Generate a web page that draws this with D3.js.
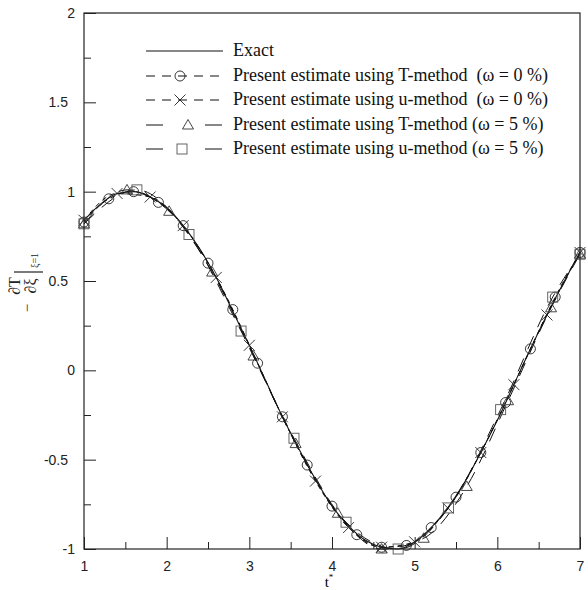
<!DOCTYPE html>
<html>
<head>
<meta charset="utf-8">
<script src="https://cdn.jsdelivr.net/npm/d3@7"></script>
<style>
  body { margin: 0; background: #fff; }
  svg { display: block; }
</style>
</head>
<body>
<div id="chart"></div>
<script>
// Exact solution
const exactT = [1.0, 1.2, 1.4, 1.6, 1.8, 2.0, 2.2, 2.4, 2.6, 2.8, 3.0, 3.2, 3.4, 3.6, 3.8, 4.0,
                4.2, 4.4, 4.6, 4.8, 5.0, 5.2, 5.4, 5.6, 5.8, 6.0, 6.2, 6.4, 6.6, 6.8, 7.0];
const exactV = [0.84, 0.93, 0.99, 1.00, 0.97, 0.91, 0.81, 0.68, 0.52, 0.33, 0.14, -0.06, -0.26, -0.44, -0.61, -0.76,
                -0.87, -0.95, -0.99, -1.00, -0.96, -0.88, -0.77, -0.63, -0.46, -0.28, -0.08, 0.12, 0.31, 0.49, 0.66];

// T-method, omega = 0 % (circles)
const tm0T = [1.0, 1.3, 1.6, 1.9, 2.2, 2.5, 2.8, 3.1, 3.4, 3.7, 4.0, 4.3, 4.6, 4.9, 5.2, 5.5, 5.8, 6.1, 6.4, 6.7, 7.0];
const tm0V = [0.83, 0.96, 1.00, 0.94, 0.81, 0.60, 0.34, 0.04, -0.26, -0.53, -0.76, -0.92, -0.99, -0.98, -0.88, -0.71, -0.46, -0.18, 0.12, 0.41, 0.66];

// u-method, omega = 0 % (crosses)
const um0T = [1.0, 1.4, 1.8, 2.2, 2.6, 3.0, 3.4, 3.8, 4.2, 4.6, 5.0, 5.4, 5.8, 6.2, 6.6, 7.0];
const um0V = [0.84, 0.99, 0.97, 0.81, 0.52, 0.14, -0.26, -0.62, -0.88, -0.99, -0.96, -0.77, -0.46, -0.08, 0.31, 0.66];

// T-method, omega = 5 % (triangles)
const tm5T = [1.0, 1.52, 2.03, 2.55, 3.05, 3.56, 4.07, 4.6, 5.11, 5.63, 6.13, 6.65, 7.0];
const tm5V = [0.82, 1.01, 0.89, 0.55, 0.08, -0.41, -0.80, -1.00, -0.94, -0.65, -0.17, 0.35, 0.65];

// u-method, omega = 5 % (squares)
const um5T = [1.0, 1.64, 2.27, 2.90, 3.54, 4.17, 4.80, 5.41, 6.04, 6.67, 7.0];
const um5V = [0.82, 1.01, 0.76, 0.22, -0.38, -0.85, -1.00, -0.77, -0.22, 0.41, 0.65];

const xTicks = [1, 2, 3, 4, 5, 6, 7];
const yTicks = [-1, -0.5, 0, 0.5, 1, 1.5, 2];
const xMinor = [1.5, 2.5, 3.5, 4.5, 5.5, 6.5];
const yMinor = [-0.75, -0.25, 0.25, 0.75, 1.25, 1.75];

const legendLabels = [
  "Exact",
  "Present estimate using T-method  (\u03c9 = 0 %)",
  "Present estimate using u-method  (\u03c9 = 0 %)",
  "Present estimate using T-method (\u03c9 = 5 %)",
  "Present estimate using u-method (\u03c9 = 5 %)"
];

const W = 588, H = 590;
const margin = { top: 13, right: 8, bottom: 41, left: 84 };
const width = W - margin.left - margin.right;
const height = H - margin.top - margin.bottom;

const svg = d3.select("#chart").append("svg")
  .attr("width", W)
  .attr("height", H);

const g = svg.append("g")
  .attr("transform", `translate(${margin.left},${margin.top})`);

const x = d3.scaleLinear().domain([1, 7]).range([0, width]);
const y = d3.scaleLinear().domain([-1, 2]).range([height, 0]);

const zip = (ts, vs) => ts.map((t, i) => ({ t: t, v: vs[i] }));

const series = [
  { data: zip(exactT, exactV), dash: null, symbol: null },
  { data: zip(tm0T, tm0V), dash: "5,4", symbol: "circle" },
  { data: zip(um0T, um0V), dash: "5,4", symbol: "cross" },
  { data: zip(tm5T, tm5V), dash: "14,10", symbol: "triangle" },
  { data: zip(um5T, um5V), dash: "14,10", symbol: "square" }
];

// draws one marker at (cx, cy)
function marker(sel, type, cx, cy) {
  if (type === "circle") {
    sel.append("circle").attr("cx", cx).attr("cy", cy).attr("r", 5)
      .attr("fill", "none").attr("stroke", "#222").attr("stroke-width", 0.9);
  } else if (type === "cross") {
    const s = 5.5;
    sel.append("path")
      .attr("d", `M${cx - s},${cy - s}L${cx + s},${cy + s}M${cx - s},${cy + s}L${cx + s},${cy - s}`)
      .attr("stroke", "#222").attr("stroke-width", 0.9).attr("fill", "none");
  } else if (type === "triangle") {
    sel.append("path")
      .attr("d", `M${cx},${cy - 5.5}L${cx + 5.5},${cy + 4}L${cx - 5.5},${cy + 4}Z`)
      .attr("stroke", "#333").attr("stroke-width", 0.9).attr("fill", "none");
  } else if (type === "square") {
    sel.append("rect").attr("x", cx - 5).attr("y", cy - 5).attr("width", 10).attr("height", 10)
      .attr("fill", "none").attr("stroke", "#555").attr("stroke-width", 0.9);
  }
}

const line = d3.line()
  .x(d => x(d.t))
  .y(d => y(d.v))
  .curve(d3.curveMonotoneX);

// curves
series.forEach(s => {
  g.append("path")
    .datum(s.data)
    .attr("d", line)
    .attr("fill", "none")
    .attr("stroke", "#111")
    .attr("stroke-width", s.dash ? 1 : 1.1)
    .attr("stroke-dasharray", s.dash);
});

// markers
series.forEach(s => {
  if (!s.symbol) return;
  const mg = g.append("g");
  s.data.forEach(d => marker(mg, s.symbol, x(d.t), y(d.v)));
});

// axes, ticks pointing inward
g.append("g")
  .attr("transform", `translate(0,${height})`)
  .call(d3.axisBottom(x).tickValues(xTicks).tickSizeInner(-12).tickSizeOuter(0).tickPadding(12).tickFormat(d3.format("d")));
g.append("g")
  .attr("transform", `translate(0,${height})`)
  .call(d3.axisBottom(x).tickValues(xMinor).tickSizeInner(-7).tickSizeOuter(0).tickFormat(""));

const yAxis = g.append("g")
  .call(d3.axisLeft(y).tickValues(yTicks).tickSizeInner(-12).tickSizeOuter(0).tickPadding(9).tickFormat(d => String(d)));
g.append("g")
  .call(d3.axisLeft(y).tickValues(yMinor).tickSizeInner(-7).tickSizeOuter(0).tickFormat(""));

g.selectAll(".domain").remove();
g.selectAll(".tick line").attr("stroke", "#222").attr("stroke-width", 1);
g.selectAll(".tick text")
  .style("font-family", "'Liberation Sans', Arial, sans-serif")
  .style("font-size", "14px")
  .attr("fill", "#222");
// decimal labels sit a bit further left
yAxis.selectAll(".tick text").attr("x", d => String(d).includes(".") ? -16 : -9);

// frame
g.append("rect")
  .attr("width", width)
  .attr("height", height)
  .attr("fill", "none")
  .attr("stroke", "#222")
  .attr("stroke-width", 1.2);

// x axis title
svg.append("text")
  .attr("x", margin.left + width / 2 - 3)
  .attr("y", 587)
  .attr("text-anchor", "middle")
  .style("font-family", "'Liberation Serif', 'Times New Roman', serif")
  .style("font-size", "15px")
  .text("t")
  .append("tspan")
  .attr("dy", -7)
  .style("font-size", "9px")
  .text("*");

// y axis title: - dT/dxi |xi=1, rotated
const yl = svg.append("g")
  .attr("transform", "translate(30,290) rotate(-90)")
  .style("font-family", "'Liberation Serif', 'Times New Roman', serif")
  .attr("fill", "#222");
yl.append("text").attr("x", -18).attr("y", 2).attr("text-anchor", "middle")
  .style("font-size", "15px").text("\u2212");
yl.append("text").attr("x", 4).attr("y", -10).attr("text-anchor", "middle")
  .style("font-size", "16px").text("\u2202T");
yl.append("text").attr("x", 4).attr("y", 6).attr("text-anchor", "middle")
  .style("font-size", "16px").text("\u2202\u03be");
yl.append("line").attr("x1", 18).attr("x2", 18).attr("y1", -16).attr("y2", 13)
  .attr("stroke", "#222").attr("stroke-width", 1.2);
yl.append("text").attr("x", 22).attr("y", 8)
  .style("font-size", "10px").text("\u03be=1");

// legend
const legend = svg.append("g").attr("transform", "translate(146,0)");
const rowY = [51, 76, 100, 125, 149];
const legendStyles = [
  { dash: null, symbol: null, mx: 0 },
  { dash: "9,7", symbol: "circle", mx: 34 },
  { dash: "9,7", symbol: "cross", mx: 34 },
  { dash: "17,42", symbol: "triangle", mx: 42 },
  { dash: "17,42", symbol: "square", mx: 36 }
];
legendLabels.forEach((label, i) => {
  const st = legendStyles[i];
  legend.append("line")
    .attr("x1", 0).attr("x2", 77)
    .attr("y1", rowY[i]).attr("y2", rowY[i])
    .attr("stroke", "#111").attr("stroke-width", 1)
    .attr("stroke-dasharray", st.dash);
  if (st.symbol) marker(legend, st.symbol, st.mx, rowY[i]);
  legend.append("text")
    .attr("x", 87)
    .attr("y", rowY[i] + 5)
    .style("font-family", "'Liberation Serif', 'Times New Roman', serif")
    .style("font-size", "18px")
    .style("white-space", "pre")
    .attr("fill", "#111")
    .text(label);
});
</script>
</body>
</html>
